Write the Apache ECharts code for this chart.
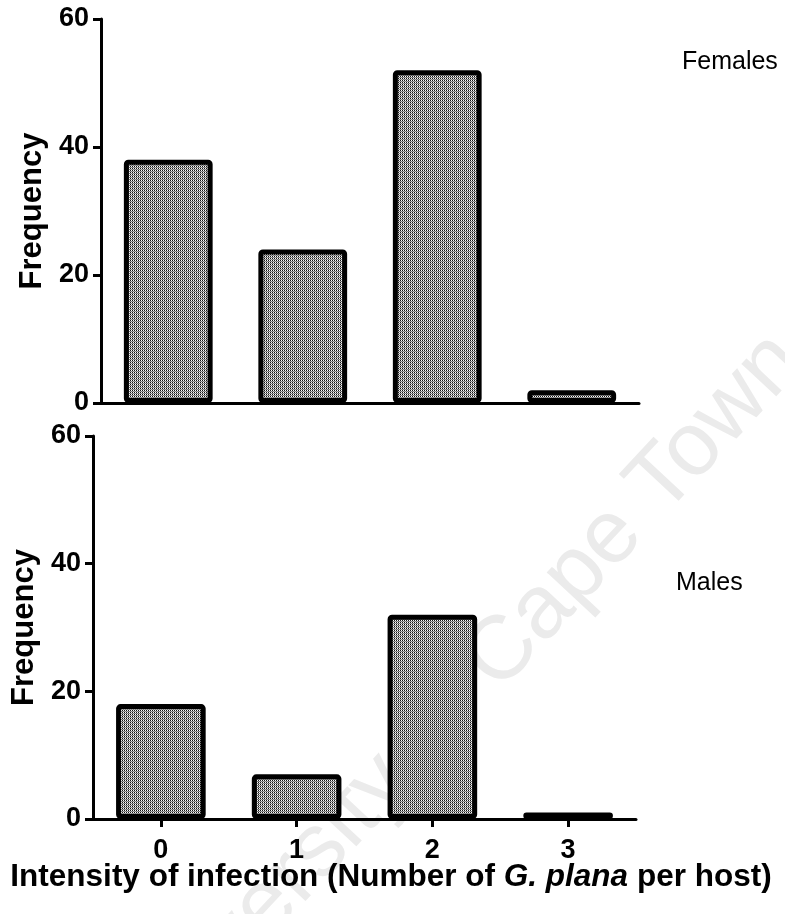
<!DOCTYPE html>
<html>
<head>
<meta charset="utf-8">
<script src="https://cdn.jsdelivr.net/npm/echarts@6/dist/echarts.min.js"></script>
<style>
html,body{margin:0;padding:0;background:#fff;}
#chart{width:785px;height:914px;}
</style>
</head>
<body>
<div id="chart"></div>
<script>
// Data
const categories = ['0', '1', '2', '3'];
const femalesValues = [38, 24, 52, 2];
const malesValues = [18, 7, 32, 1];
const yTicks = [0, 20, 40, 60];
const panelLabels = ['Females', 'Males'];
const yAxisTitle = 'Frequency';
const xTitleParts = ['Intensity of infection (Number of ', 'G. plana', ' per host)'];
const watermarkText = 'University of Cape Town';

// dotted (halftone) fill pattern
function makePattern() {
  const c = document.createElement('canvas');
  c.width = 2; c.height = 2;
  const g = c.getContext('2d');
  g.fillStyle = '#ffffff'; g.fillRect(0, 0, 2, 2);
  g.fillStyle = '#111111'; g.fillRect(0, 0, 1, 1);
  g.fillStyle = '#777777'; g.fillRect(1, 1, 1, 1);
  g.fillStyle = '#aaaaaa'; g.fillRect(0, 1, 1, 1);
  return c;
}
const pattern = { image: makePattern(), repeat: 'repeat' };

const FONT = 'Liberation Sans, Arial, sans-serif';
const tickLabelStyle = { color: '#000', fontFamily: FONT, fontWeight: 'bold', fontSize: 27 };

function yAxisCfg(gridIndex) {
  return {
    type: 'value', gridIndex: gridIndex, min: 0, max: 60, interval: 20,
    name: yAxisTitle, nameLocation: 'middle', nameRotate: 90, nameGap: 52,
    nameTextStyle: { color: '#000', fontFamily: FONT, fontWeight: 'bold', fontSize: 31 },
    axisLine: { show: true, lineStyle: { color: '#000', width: 3 } },
    axisTick: { show: true, inside: false, length: 8, lineStyle: { color: '#000', width: 3 } },
    axisLabel: Object.assign({ margin: 12, formatter: v => yTicks.includes(v) ? String(v) : '' }, tickLabelStyle),
    splitLine: { show: false }
  };
}

const barStyle = {
  color: pattern,
  borderColor: '#000',
  borderWidth: 5,
  borderRadius: 2
};

const option = {
  backgroundColor: '#fff',
  animation: false,
  grid: [
    { left: 101, right: 146, top: 19, height: 384 },
    { left: 93, right: 149, top: 436, height: 383 }
  ],
  xAxis: [
    {
      type: 'category', gridIndex: 0, data: categories,
      axisLine: { show: true, lineStyle: { color: '#000', width: 3 } },
      axisTick: { show: false }, axisLabel: { show: false }
    },
    {
      type: 'category', gridIndex: 1, data: categories,
      axisLine: { show: true, lineStyle: { color: '#000', width: 3 } },
      axisTick: { show: true, alignWithLabel: true, length: 8, lineStyle: { color: '#000', width: 3 } },
      axisLabel: Object.assign({ margin: 18 }, tickLabelStyle)
    }
  ],
  yAxis: [yAxisCfg(0), yAxisCfg(1)],
  series: [
    {
      type: 'bar', xAxisIndex: 0, yAxisIndex: 0, data: femalesValues,
      barCategoryGap: '34%', itemStyle: barStyle, z: 3
    },
    {
      type: 'bar', xAxisIndex: 1, yAxisIndex: 1, data: malesValues,
      barCategoryGap: '34%', itemStyle: barStyle, z: 3
    }
  ],
  graphic: [
    {
      type: 'text', z: -10, silent: true,
      x: 457, y: 702, rotation: 47 * Math.PI / 180,
      style: {
        text: watermarkText, fill: '#ebebeb',
        font: 'normal 90px ' + FONT,
        align: 'center', verticalAlign: 'middle'
      }
    },
    {
      type: 'text', left: 682, top: 50,
      style: { text: panelLabels[0], fill: '#000', font: 'normal 25px ' + FONT }
    },
    {
      type: 'text', left: 676, top: 571,
      style: { text: panelLabels[1], fill: '#000', font: 'normal 25px ' + FONT }
    },
    {
      type: 'text', x: 391, y: 877,
      style: {
        text: '{b|' + xTitleParts[0] + '}{i|' + xTitleParts[1] + '}{b|' + xTitleParts[2] + '}',
        align: 'center', verticalAlign: 'middle',
        rich: {
          b: { fill: '#000', fontFamily: FONT, fontWeight: 'bold', fontSize: 31.5 },
          i: { fill: '#000', fontFamily: FONT, fontWeight: 'bold', fontStyle: 'italic', fontSize: 31.5 }
        }
      }
    }
  ]
};

const chart = echarts.init(document.getElementById('chart'), null, { renderer: 'canvas' });
chart.setOption(option);
</script>
</body>
</html>
